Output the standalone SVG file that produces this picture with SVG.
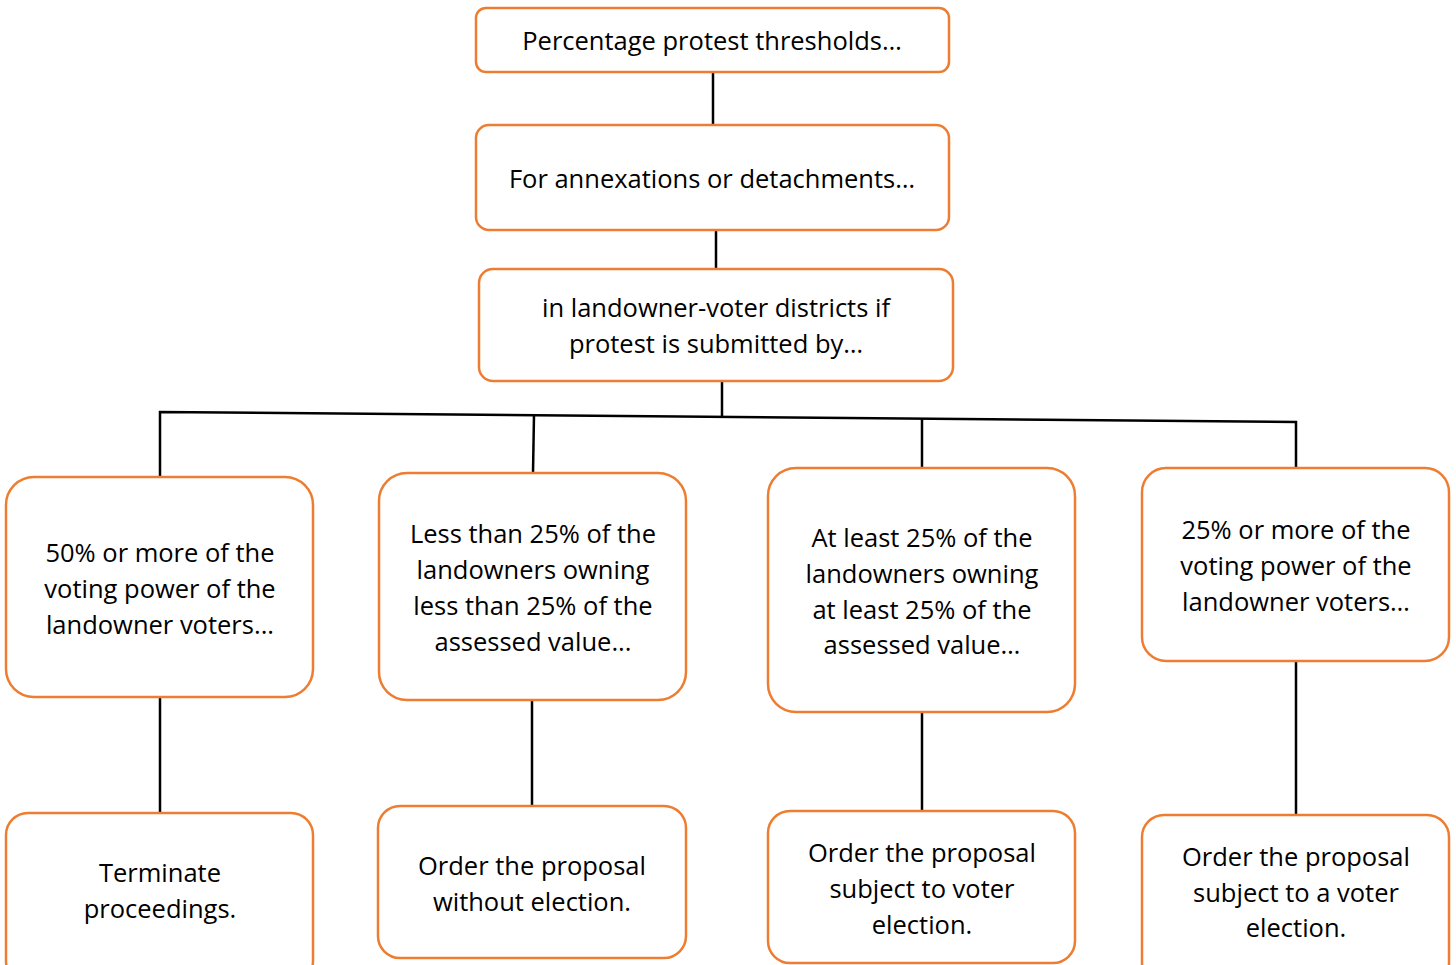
<svg xmlns="http://www.w3.org/2000/svg" width="1456" height="965" viewBox="0 0 1456 965">
<style>
.box{fill:#fff;stroke:#ED7D31;stroke-width:2.5}
.t{font-family:"Open Sans","Liberation Sans",sans-serif;font-size:25.5px;fill:#000;text-anchor:middle}
.c{fill:none;stroke:#000;stroke-width:2.5}
</style>
<rect width="1456" height="965" fill="#fff"/>
<g id="connectors">
<path class="c" d="M713,72V125"/>
<path class="c" d="M716,230V269"/>
<path class="c" d="M722,381V416"/>
<path class="c" d="M160,477V412L1296,422V468"/>
<path class="c" d="M534,415L533,473"/>
<path class="c" d="M922,419V468"/>
<path class="c" d="M160,697V813"/>
<path class="c" d="M532,700V806"/>
<path class="c" d="M922,712V811"/>
<path class="c" d="M1296,661V815"/>
</g>
<g id="n1"><rect class="box" x="476" y="8" width="473" height="64" rx="10"/><text class="t" x="712" y="50">Percentage protest thresholds…</text></g>
<g id="n2"><rect class="box" x="476" y="125" width="473" height="105" rx="13"/><text class="t" x="712" y="188">For annexations or detachments…</text></g>
<g id="n3"><rect class="box" x="479" y="269" width="474" height="112" rx="14"/><text class="t" x="716" y="317">in landowner-voter districts if</text><text class="t" x="716" y="353">protest is submitted by…</text></g>
<g id="a1"><rect class="box" x="6" y="477" width="307" height="220" rx="28"/><text class="t" x="160" y="562">50% or more of the</text><text class="t" x="160" y="598">voting power of the</text><text class="t" x="160" y="634">landowner voters...</text></g>
<g id="a2"><rect class="box" x="379" y="473" width="307" height="227" rx="28"/><text class="t" x="533" y="543">Less than 25% of the</text><text class="t" x="533" y="579">landowners owning</text><text class="t" x="533" y="615">less than 25% of the</text><text class="t" x="533" y="651">assessed value...</text></g>
<g id="a3"><rect class="box" x="768" y="468" width="307" height="244" rx="28"/><text class="t" x="922" y="547">At least 25% of the</text><text class="t" x="922" y="583">landowners owning</text><text class="t" x="922" y="619">at least 25% of the</text><text class="t" x="922" y="654">assessed value…</text></g>
<g id="a4"><rect class="box" x="1142" y="468" width="307" height="193" rx="24"/><text class="t" x="1296" y="539">25% or more of the</text><text class="t" x="1296" y="575">voting power of the</text><text class="t" x="1296" y="611">landowner voters…</text></g>
<g id="b1"><rect class="box" x="6" y="813" width="307" height="170" rx="22"/><text class="t" x="160" y="882">Terminate</text><text class="t" x="160" y="918">proceedings.</text></g>
<g id="b2"><rect class="box" x="378" y="806" width="308" height="152" rx="22"/><text class="t" x="532" y="875">Order the proposal</text><text class="t" x="532" y="911">without election.</text></g>
<g id="b3"><rect class="box" x="768" y="811" width="307" height="152" rx="22"/><text class="t" x="922" y="862">Order the proposal</text><text class="t" x="922" y="898">subject to voter</text><text class="t" x="922" y="934">election.</text></g>
<g id="b4"><rect class="box" x="1142" y="815" width="307" height="170" rx="22"/><text class="t" x="1296" y="866">Order the proposal</text><text class="t" x="1296" y="902">subject to a voter</text><text class="t" x="1296" y="937">election.</text></g>
</svg>
